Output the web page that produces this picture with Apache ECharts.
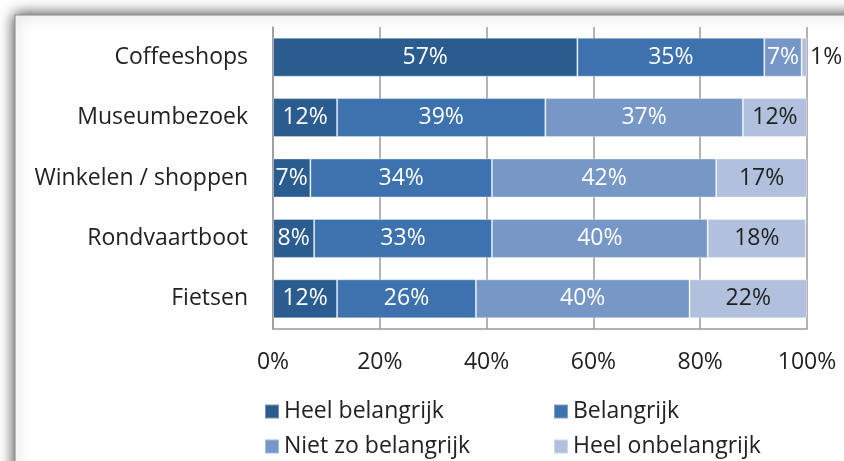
<!DOCTYPE html>
<html>
<head>
<meta charset="utf-8">
<script src="https://cdn.jsdelivr.net/npm/echarts@6/dist/echarts.min.js"></script>
<style>
  html, body { margin: 0; padding: 0; background: #fff; }
  #chart { width: 844px; height: 461px; }
</style>
</head>
<body>
<div id="chart"></div>
<script>
  // categories (top to bottom)
  var categories = ['Coffeeshops', 'Museumbezoek', 'Winkelen / shoppen', 'Rondvaartboot', 'Fietsen']
  var seriesNames = ['Heel belangrijk', 'Belangrijk', 'Niet zo belangrijk', 'Heel onbelangrijk']
  // percentages per category
  var heelBelangrijk = [57, 12, 7, 7.7, 12]
  var belangrijk = [35, 39, 34, 33.3, 26]
  var nietZoBelangrijk = [7, 37, 42, 40.4, 40]
  var heelOnbelangrijk = [1, 12, 17, 18.4, 22]
  var xTicks = [0, 20, 40, 60, 80, 100]

  var colors = ['#2b5c90', '#3e72ae', '#7797c7', '#b1c1dd']
  var labelColors = ['#ffffff', '#ffffff', '#ffffff', '#1f1f1f']
  var font = '"Open Sans", "Noto Sans", sans-serif'
  var fs = 23

  var chart = echarts.init(document.getElementById('chart'))

  var values = [heelBelangrijk, belangrijk, nietZoBelangrijk, heelOnbelangrijk]
  var series = seriesNames.map(function (name, i) {
    return {
      name: name,
      type: 'bar',
      stack: 'total',
      barWidth: 39,
      itemStyle: {
        color: colors[i],
        borderColor: 'rgba(255,255,255,0.35)',
        borderWidth: 1
      },
      label: {
        show: true,
        position: 'inside',
        color: labelColors[i],
        fontFamily: font,
        fontSize: fs,
        formatter: function (p) { return Math.round(p.value) + '%' }
      },
      data: values[i].map(function (v) {
        // tiny slice: label sits outside the bar
        if (v < 3) {
          return { value: v, label: { position: 'right', distance: 3 } }
        }
        return v
      })
    }
  })

  // one legend per item so the two columns line up
  var legendPos = [[264, 400], [553, 400], [264, 435], [553, 435]]
  var legends = seriesNames.map(function (name, i) {
    return {
      data: [name],
      left: legendPos[i][0],
      top: legendPos[i][1],
      padding: 0,
      icon: 'rect',
      itemWidth: 14,
      itemHeight: 14,
      selectedMode: false,
      textStyle: {
        fontFamily: font,
        fontSize: fs,
        lineHeight: 22,
        color: '#222222'
      }
    }
  })

  var option = {
    backgroundColor: '#ffffff',
    animation: false,
    color: colors,
    graphic: [
      {
        type: 'rect',
        z: -10,
        shape: { x: 15, y: 15, width: 900, height: 600 },
        style: {
          fill: '#ffffff',
          stroke: '#8a8a8a',
          lineWidth: 1,
          shadowBlur: 14,
          shadowColor: 'rgba(0,0,0,0.8)'
        }
      }
    ],
    legend: legends,
    grid: {
      left: 273,
      right: 37,
      top: 27,
      bottom: 132
    },
    xAxis: {
      type: 'value',
      min: xTicks[0],
      max: xTicks[xTicks.length - 1],
      interval: 20,
      axisLine: { show: true, lineStyle: { color: '#9a9a9a', width: 1.5 } },
      axisTick: { show: false },
      splitLine: { show: true, lineStyle: { color: '#9a9a9a', width: 1.5 } },
      axisLabel: {
        margin: 22,
        fontFamily: font,
        fontSize: fs,
        color: '#222222',
        formatter: '{value}%'
      }
    },
    yAxis: {
      type: 'category',
      inverse: true,
      data: categories,
      axisLine: { show: true, lineStyle: { color: '#9a9a9a', width: 1.5 } },
      axisTick: { show: false },
      axisLabel: {
        margin: 25,
        fontFamily: font,
        fontSize: fs,
        color: '#222222'
      }
    },
    series: series
  }

  chart.setOption(option)
</script>
</body>
</html>
